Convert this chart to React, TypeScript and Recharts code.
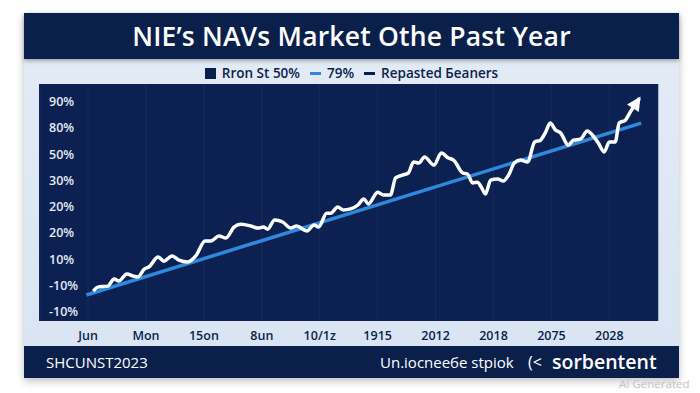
import React from 'react';
import { LineChart, Line, XAxis, YAxis, CartesianGrid } from 'recharts';

const xLabels = ['Jun', 'Mon', '15on', '8un', '10/1z', '1915', '2012', '2018', '2075', '2028'];
const yLabels = ['-10%', '-10%', '10%', '20%', '20%', '30%', '50%', '80%', '90%'];
const yTicks = [0, 10, 20, 30, 40, 50, 60, 70, 80];

// white NAV line, x in label units, y in tick units
const navX = [
  0.09, 0.17, 0.34, 0.45, 0.53, 0.67, 0.78, 0.86, 0.97, 1.05, 1.21, 1.31, 1.45, 1.57, 1.72, 1.86, 2.02, 2.12,
  2.26, 2.38, 2.52, 2.64, 2.81, 2.93, 3.03, 3.1, 3.22, 3.36, 3.5, 3.6, 3.78, 3.9, 3.98, 4.12, 4.19, 4.31, 4.41,
  4.53, 4.66, 4.76, 4.84, 5.0, 5.1, 5.22, 5.31, 5.43, 5.53, 5.62, 5.71, 5.81, 5.97, 6.1, 6.22, 6.31, 6.47, 6.55,
  6.64, 6.72, 6.79, 6.86, 6.95, 7.07, 7.17, 7.26, 7.36, 7.47, 7.59, 7.71, 7.81, 7.9, 7.98, 8.07, 8.16, 8.29,
  8.38, 8.5, 8.62, 8.71, 8.81, 8.91, 9.0, 9.1, 9.17, 9.28, 9.36, 9.52,
];
const navY = [
  7.6, 9.1, 9.5, 12.2, 11.4, 14.1, 13.3, 13.0, 16.0, 16.8, 20.6, 19.0, 21.0, 19.4, 18.7, 21.0, 26.7, 26.7,
  28.6, 27.8, 32.0, 33.1, 32.4, 31.6, 32.0, 31.2, 34.7, 33.9, 31.6, 32.4, 30.5, 32.8, 32.0, 37.3, 37.3, 39.6, 38.5,
  38.9, 40.4, 42.7, 40.8, 45.3, 44.2, 44.2, 50.7, 51.8, 52.6, 56.8, 56.4, 58.7, 55.6, 60.2, 58.3, 57.5, 52.6, 52.2,
  48.8, 49.1, 47.2, 44.6, 49.9, 50.3, 49.5, 51.8, 56.4, 57.5, 56.8, 64.4, 65.1, 68.2, 71.6, 69.0, 67.8, 63.2,
  65.1, 65.5, 68.6, 67.0, 64.0, 60.6, 64.4, 64.4, 71.6, 72.8, 75.8, 81.1,
];
const trendX = [-0.03, 9.55];
const trendY = [6.1, 71.6];

const navData = navX.map((x, i) => ({ x, y: navY[i] }));
const trendData = trendX.map((x, i) => ({ x, y: trendY[i] }));

const NAVY = '#0b1f4b';
const PLOT = '#0c2152';
const FONT = '"Open Sans", "Noto Sans", sans-serif';

const ArrowDot = (props: any) => {
  const { cx, cy, index } = props;
  if (index !== navData.length - 1) return <g key={`d-${index}`} />;
  return (
    <polygon
      key={`d-${index}`}
      points="0,-2 -7,12 7,12"
      fill="#ffffff"
      transform={`translate(${cx},${cy}) rotate(33)`}
    />
  );
};

const YTick = (props: any) => {
  const { y, payload } = props;
  const label = yLabels[yTicks.indexOf(payload.value)];
  return (
    <text x={49} y={y} dy={5} textAnchor="start" fill="#e3eaf5" fontSize={12.5} fontWeight={600} fontFamily={FONT}>
      {label}
    </text>
  );
};

const XTick = (props: any) => {
  const { x, payload } = props;
  return (
    <text x={x} y={340} textAnchor="middle" fill={NAVY} fontSize={12.5} fontWeight={600} fontFamily={FONT}>
      {xLabels[payload.value]}
    </text>
  );
};

export default function App() {
  return (
    <div style={{ position: 'absolute', left: 0, top: 0, width: 700, height: 393, background: '#fff', overflow: 'hidden', fontFamily: FONT }}>
      <div
        style={{
          position: 'absolute', left: 24, top: 13, width: 655, height: 365,
          background: 'linear-gradient(180deg, #e3ebf6 0%, #d9e4f2 100%)',
          boxShadow: '0 3px 8px rgba(0,0,0,0.25)',
        }}
      >
        <div style={{ position: 'absolute', left: 0, top: 0, width: 655, height: 46, background: NAVY, boxShadow: '0 2px 4px rgba(0,0,0,0.3)' }}>
          <div style={{ textAlign: 'center', color: '#fff', fontSize: 26.5, fontWeight: 600, lineHeight: '46px', letterSpacing: 0.2 }}>
            NIE’s NAVs Market Othe Past Year
          </div>
        </div>
        <div
          style={{
            position: 'absolute', left: 0, top: 51, width: 655, textAlign: 'center',
            color: NAVY, fontSize: 13.5, fontWeight: 600, display: 'flex', justifyContent: 'center', alignItems: 'center', gap: 6,
          }}
        >
          <span style={{ display: 'inline-block', width: 11, height: 11, background: NAVY }} />
          <span>Rron St 50%</span>
          <span style={{ display: 'inline-block', width: 11, height: 3, background: '#2e88dc', marginLeft: 4 }} />
          <span>79%</span>
          <span style={{ display: 'inline-block', width: 11, height: 3, background: NAVY, marginLeft: 4 }} />
          <span>Repasted Бeaners</span>
        </div>
        <div style={{ position: 'absolute', left: 15, top: 71, width: 619, height: 237, background: PLOT }} />
        <div style={{ position: 'absolute', left: 0, top: 333, width: 655, height: 32, background: NAVY }}>
          <div style={{ position: 'absolute', left: 22, top: 0, lineHeight: '32px', color: '#fff', fontSize: 15, fontWeight: 400 }}>
            SHCUNST2023
          </div>
          <div style={{ position: 'absolute', left: 356, top: 0, lineHeight: '32px', color: '#fff', fontSize: 15, fontWeight: 400 }}>
            Un.iocneeбe stpiok
          </div>
          <div style={{ position: 'absolute', left: 504, top: 0, lineHeight: '32px', color: '#fff', fontSize: 16, fontWeight: 400 }}>
            (&lt;
          </div>
          <div style={{ position: 'absolute', left: 528, top: 0, lineHeight: '32px', color: '#fff', fontSize: 19.5, fontWeight: 600 }}>
            sorbentent
          </div>
        </div>
      </div>
      <div style={{ position: 'absolute', left: 619, top: 376, color: '#c4c4c4', fontSize: 11.5 }}>AI Generated</div>
      <div style={{ position: 'absolute', left: 0, top: 0 }}>
        <LineChart width={700} height={393} margin={{ top: 84, right: 42, bottom: 42, left: 39 }}>
          <CartesianGrid stroke="#1b3466" strokeOpacity={0.6} horizontal={false} />
          <XAxis
            type="number"
            dataKey="x"
            domain={[-0.83, 9.84]}
            ticks={[0, 1, 2, 3, 4, 5, 6, 7, 8, 9]}
            interval={0}
            allowDataOverflow
            axisLine={false}
            tickLine={false}
            height={30}
            tick={<XTick />}
          />
          <YAxis
            type="number"
            domain={[-3.8, 86.5]}
            ticks={yTicks}
            interval={0}
            allowDataOverflow
            axisLine={false}
            tickLine={false}
            width={1}
            tick={<YTick />}
          />
          <Line
            data={trendData}
            dataKey="y"
            type="linear"
            stroke="#2e88dc"
            strokeWidth={3.5}
            dot={false}
            isAnimationActive={false}
          />
          <Line
            data={navData}
            dataKey="y"
            type="monotone"
            stroke="#ffffff"
            strokeWidth={3.5}
            strokeLinejoin="round"
            dot={ArrowDot}
            activeDot={false}
            isAnimationActive={false}
          />
        </LineChart>
      </div>
    </div>
  );
}
